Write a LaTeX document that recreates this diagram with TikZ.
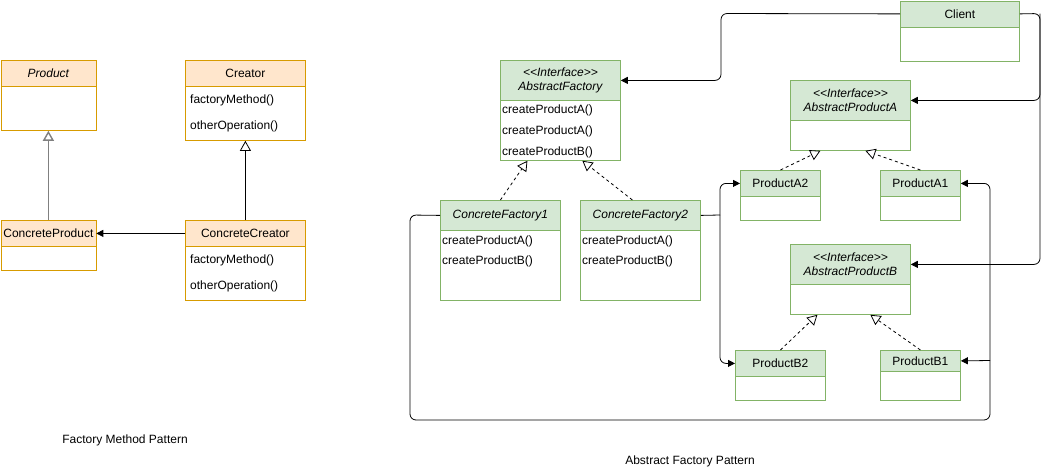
\documentclass[tikz,border=0pt]{standalone}
\usepackage{fontspec}
\setmainfont{Liberation Sans}
\usetikzlibrary{arrows.meta,calc}
\definecolor{ofill}{HTML}{FFE6CC}
\definecolor{oline}{HTML}{D79B00}
\definecolor{gfill}{HTML}{D5E8D4}
\definecolor{gline}{HTML}{82B366}
\newcommand{\umlfont}{\fontsize{12}{14}\selectfont}
\tikzset{
  body/.style={draw=#1, fill=white, anchor=north west, inner sep=0pt, line width=0.8pt},
  head/.style={draw=#1, anchor=north west, inner sep=0pt, line width=0.8pt, align=center, font=\umlfont},
  ihead/.style={head=#1, font=\umlfont\itshape},
  row/.style={anchor=west, inner sep=0pt, font=\umlfont},
  conn/.style={draw=black, line width=0.8pt, rounded corners=6pt},
  arr/.style={conn, -{Triangle[length=7pt,width=7pt]}},
  gen/.style={line width=0.8pt, -{Triangle[open,length=10pt,width=11pt,fill=white]}},
  real/.style={gen, dashed},
  caption/.style={font=\fontsize{12}{14}\selectfont, inner sep=0pt}
}
\begin{document}
\begin{tikzpicture}[x=1pt,y=-1pt]
\useasboundingbox (0,0) rectangle (1050,471);
\fill[white] (0,0) rectangle (1050,471);

% ---------- Factory Method ----------
\node[body=oline, minimum width=95pt, minimum height=70pt] (prod) at (0.5,60) {};
\node[ihead=oline, fill=ofill, minimum width=95pt, minimum height=26pt] (prodH) at (0.5,60) {Product};

\node[body=oline, minimum width=120pt, minimum height=80pt] (cre) at (185,60) {};
\node[head=oline, fill=ofill, minimum width=120pt, minimum height=26pt] (creH) at (185,60) {Creator};
\node[row] (cre1) at (190,100) {factoryMethod()};
\node[row] (cre2) at (190,126) {otherOperation()};

\node[body=oline, minimum width=95pt, minimum height=50pt] (cprod) at (0.5,220) {};
\node[head=oline, fill=ofill, minimum width=95pt, minimum height=26pt] (cprodH) at (0.5,220) {ConcreteProduct};

\node[body=oline, minimum width=120pt, minimum height=80pt] (ccre) at (185,220) {};
\node[head=oline, fill=ofill, minimum width=120pt, minimum height=26pt] (ccreH) at (185,220) {ConcreteCreator};
\node[row] (ccre1) at (190,260) {factoryMethod()};
\node[row] (ccre2) at (190,286) {otherOperation()};

\draw[gen, draw=gray, line width=1.4pt] (cprodH.north) -- (prod.south);
\draw[gen] (ccreH.north) -- (cre.south);
\draw[arr] (ccreH.west) -- (cprodH.east);

\node[caption] (fmp) at (125,440) {Factory Method Pattern};

% ---------- Abstract Factory ----------
\node[body=gline, minimum width=120pt, minimum height=100pt] (af) at (500,60) {};
\node[ihead=gline, fill=gfill, minimum width=120pt, minimum height=40pt] (afH) at (500,60) {{<}{<}Interface{>}{>}\\AbstractFactory};
\node[row] (af1) at (502,110) {createProductA()};
\node[row] (af2) at (502,131) {createProductA()};
\node[row] (af3) at (502,152) {createProductB()};

\node[body=gline, minimum width=120pt, minimum height=100pt] (cf1) at (440,200) {};
\node[ihead=gline, fill=gfill, minimum width=120pt, minimum height=30pt] (cf1H) at (440,200) {ConcreteFactory1};
\node[row] (cf11) at (442,241) {createProductA()};
\node[row] (cf12) at (442,261) {createProductB()};

\node[body=gline, minimum width=120pt, minimum height=100pt] (cf2) at (580,200) {};
\node[ihead=gline, fill=gfill, minimum width=120pt, minimum height=30pt] (cf2H) at (580,200) {ConcreteFactory2};
\node[row] (cf21) at (582,241) {createProductA()};
\node[row] (cf22) at (582,261) {createProductB()};

\node[body=gline, minimum width=119pt, minimum height=60pt] (cl) at (900,0.5) {};
\node[head=gline, fill=gfill, minimum width=119pt, minimum height=26pt] (clH) at (900,0.5) {Client};

\node[body=gline, minimum width=120pt, minimum height=70pt] (apa) at (790,80) {};
\node[ihead=gline, fill=gfill, minimum width=120pt, minimum height=40pt] (apaH) at (790,80) {{<}{<}Interface{>}{>}\\AbstractProductA};

\node[body=gline, minimum width=80pt, minimum height=50pt] (pa2) at (740,170) {};
\node[head=gline, fill=gfill, minimum width=80pt, minimum height=26pt] (pa2H) at (740,170) {ProductA2};

\node[body=gline, minimum width=80pt, minimum height=50pt] (pa1) at (880,170) {};
\node[head=gline, fill=gfill, minimum width=80pt, minimum height=26pt] (pa1H) at (880,170) {ProductA1};

\node[body=gline, minimum width=120pt, minimum height=70pt] (apb) at (790,244) {};
\node[ihead=gline, fill=gfill, minimum width=120pt, minimum height=40pt] (apbH) at (790,244) {{<}{<}Interface{>}{>}\\AbstractProductB};

\node[body=gline, minimum width=90pt, minimum height=50pt] (pb2) at (735,350) {};
\node[head=gline, fill=gfill, minimum width=90pt, minimum height=26pt] (pb2H) at (735,350) {ProductB2};

\node[body=gline, minimum width=80pt, minimum height=50pt] (pb1) at (880,350) {};
\node[head=gline, fill=gfill, minimum width=80pt, minimum height=21pt] (pb1H) at (880,350) {ProductB1};

% realizations
\draw[real] (cf1H.north) -- ([xshift=-33pt]af.south);
\draw[real] ([xshift=-8pt]cf2H.north) -- ([xshift=22pt]af.south);
\draw[real] (pa2H.north) -- ([xshift=-30pt]apa.south);
\draw[real] (pa1H.north) -- ([xshift=15pt]apa.south);
\draw[real] (pb2H.north) -- ([xshift=-33pt]apb.south);
\draw[real] (pb1H.north) -- ([xshift=20pt]apb.south);

% client associations
\coordinate (cl1) at (721,13.5);
\draw[arr] (clH.west) -- (cl1) |- (afH.east);
\coordinate (cr1) at (1040,13.5);
\draw[arr] (clH.east) -- (cr1) |- (apaH.east);
\draw[arr] (cr1) |- (apbH.east);

% ConcreteFactory2 -> ProductA2, ProductB2
\coordinate (j2) at (720,215);
\draw[conn] (cf2H.east) -- (j2);
\draw[arr] (j2) |- (pa2H.west);
\draw[arr] (j2) |- (pb2H.west);

% ConcreteFactory1 -> ProductA1, ProductB1
\coordinate (l1) at (410,215);
\coordinate (l2) at (410,420);
\coordinate (l3) at (990,420);
\coordinate (l4) at (990,360.5);
\draw[arr] (cf1H.west) -- (l1) -- (l2) -- (l3) |- (pa1H.east);
\draw[arr] (l4) -- (pb1H.east);

\node[caption] (afp) at (690,461) {Abstract Factory Pattern};
\end{tikzpicture}
\end{document}
